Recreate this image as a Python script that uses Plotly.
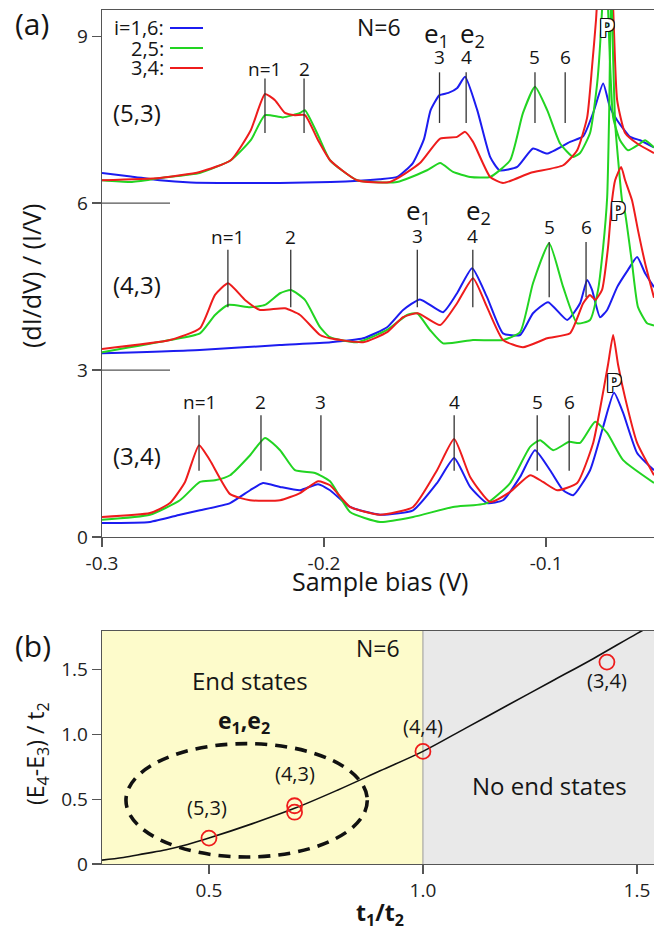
import plotly.graph_objects as go

# ---------------- Panel (a) data : sample bias (V) vs normalized dI/dV ----------------
# (5,3) chain, offset ~6.4
X53_BLUE = [-0.300, -0.287, -0.274, -0.26, -0.24, -0.22, -0.197, -0.175, -0.167, -0.160, -0.155, -0.152,
            -0.148, -0.144, -0.140, -0.1365, -0.131, -0.1252, -0.121, -0.113, -0.1059, -0.0995, -0.0892,
            -0.0833, -0.0788, -0.0743, -0.0712, -0.068, -0.0622, -0.0577, -0.0514]
Y53_BLUE = [6.54, 6.48, 6.41, 6.37, 6.36, 6.36, 6.38, 6.43, 6.47, 6.72, 7.15, 7.67,
            7.94, 7.98, 8.07, 8.27, 7.67, 6.83, 6.59, 6.65, 6.98, 6.89, 7.10,
            7.20, 7.62, 8.15, 7.72, 7.49, 7.19, 7.13, 7.0]
X53_GREEN = [-0.300, -0.287, -0.274, -0.256, -0.242, -0.233, -0.2266, -0.2185, -0.2108, -0.2086,
             -0.2027, -0.1973, -0.1851, -0.1671, -0.1536, -0.1477, -0.1419, -0.1342, -0.1252, -0.1162,
             -0.1104, -0.105, -0.0995, -0.0937, -0.0878, -0.0847, -0.0802, -0.077, -0.0748, -0.0734,
             -0.0721, -0.0698, -0.0667, -0.0631, -0.0577, -0.0554, -0.0514]
Y53_GREEN = [6.41, 6.38, 6.45, 6.54, 6.77, 7.13, 7.58, 7.54, 7.62, 7.67,
             7.22, 6.77, 6.41, 6.38, 6.59, 6.72, 6.56, 6.47, 6.47, 6.77,
             7.62, 8.09, 7.67, 7.07, 6.83, 6.9, 7.26, 8.15, 9.47, 11.0,
             9.5, 7.54, 7.13, 6.95, 7.07, 7.13, 7.0]
X53_RED = [-0.300, -0.274, -0.256, -0.242, -0.233, -0.2266, -0.2221, -0.2176, -0.2131, -0.2086,
           -0.2027, -0.1973, -0.1851, -0.1703, -0.1568, -0.1477, -0.1401, -0.1365, -0.1329, -0.1252,
           -0.1194, -0.1072, -0.0923, -0.086, -0.0815, -0.0793, -0.0775, -0.0734, -0.0698, -0.068,
           -0.0644, -0.059, -0.0514]
Y53_RED = [6.41, 6.45, 6.56, 6.77, 7.31, 7.96, 7.85, 7.62, 7.58, 7.58,
           7.13, 6.77, 6.41, 6.38, 6.72, 7.16, 7.19, 7.28, 7.10, 6.47,
           6.36, 6.54, 6.68, 6.95, 7.54, 8.45, 9.3, 12.0, 9.5, 7.85,
           7.26, 7.07, 6.9]

# (4,3) chain, offset ~3.3
X43_BLUE = [-0.300, -0.256, -0.220, -0.197, -0.1824, -0.1716, -0.1644, -0.1568, -0.1464, -0.1401,
            -0.1333, -0.1266, -0.1194, -0.1117, -0.1059, -0.0991, -0.0905, -0.0847, -0.0815, -0.0793,
            -0.0757, -0.0725, -0.068, -0.0631, -0.059, -0.0554, -0.0514]
Y43_BLUE = [3.30, 3.36, 3.45, 3.50, 3.57, 3.77, 4.08, 4.27, 4.04, 4.38,
            4.83, 4.31, 3.66, 3.63, 4.02, 4.22, 3.90, 4.2, 4.62, 4.44,
            3.95, 4.08, 4.49, 4.80, 5.03, 4.74, 4.49]
X43_GREEN = [-0.300, -0.2694, -0.2559, -0.2491, -0.2432, -0.2333, -0.2266, -0.2198, -0.2149, -0.2086,
             -0.2018, -0.1973, -0.1851, -0.1716, -0.1626, -0.1581, -0.1523, -0.1464, -0.1329, -0.1194,
             -0.1117, -0.1059, -0.0986, -0.0923, -0.086, -0.0802, -0.0766, -0.0743, -0.0725, -0.0716,
             -0.0707, -0.0698, -0.0689, -0.0676, -0.0658, -0.0644, -0.0613, -0.0586, -0.0545, -0.0514]
Y43_GREEN = [3.32, 3.54, 3.66, 3.99, 4.17, 4.13, 4.17, 4.38, 4.44, 4.26,
             3.77, 3.59, 3.50, 3.72, 3.99, 4.02, 3.72, 3.48, 3.54, 3.54,
             3.68, 4.56, 5.28, 4.49, 3.84, 3.90, 4.44, 5.21, 6.1, 7.6,
             10.0, 8.6, 7.44, 6.8, 6.05, 5.82, 4.92, 4.13, 3.84, 3.80]
X43_RED = [-0.300, -0.2694, -0.2559, -0.2491, -0.2432, -0.2356, -0.2288, -0.2176, -0.2108, -0.2018,
           -0.1973, -0.1824, -0.1716, -0.1644, -0.1577, -0.1477, -0.1401, -0.1329, -0.1266, -0.1194,
           -0.1104, -0.0995, -0.0892, -0.0833, -0.0802, -0.0779, -0.0748, -0.0721, -0.0703, -0.0689,
           -0.0662, -0.0644, -0.0613, -0.0586, -0.0554, -0.0514]
Y43_RED = [3.38, 3.54, 3.75, 4.35, 4.56, 4.26, 4.08, 4.11, 3.99, 3.63,
           3.57, 3.50, 3.68, 3.95, 4.02, 3.81, 4.20, 4.65, 4.13, 3.54,
           3.41, 3.57, 3.66, 4.20, 4.35, 4.26, 4.44, 5.21, 6.05, 6.41,
           6.65, 6.41, 6.05, 5.51, 4.92, 4.3]

# (3,4) chain, offset ~0.3
X34_BLUE = [-0.300, -0.2784, -0.2649, -0.2559, -0.2423, -0.2333, -0.2275, -0.2198, -0.2108, -0.2027,
            -0.1973, -0.1883, -0.1748, -0.1599, -0.1491, -0.1414, -0.1342, -0.1266, -0.1194, -0.1117,
            -0.105, -0.0982, -0.0923, -0.0878, -0.0802, -0.0743, -0.0694, -0.0653, -0.059, -0.0514]
Y34_BLUE = [0.25, 0.27, 0.40, 0.48, 0.61, 0.84, 0.97, 0.90, 0.84, 0.95,
            0.84, 0.54, 0.40, 0.48, 0.97, 1.42, 0.90, 0.61, 0.66, 1.08,
            1.56, 1.20, 0.84, 0.75, 1.20, 1.98, 2.59, 2.23, 1.51, 1.20]
X34_GREEN = [-0.300, -0.2784, -0.2649, -0.2559, -0.2491, -0.2423, -0.2333, -0.2266, -0.2198, -0.2131,
             -0.2041, -0.1973, -0.1883, -0.1748, -0.1599, -0.1419, -0.1266, -0.1162, -0.1072, -0.1027,
             -0.0968, -0.0896, -0.0847, -0.0779, -0.0725, -0.0653, -0.0514]
Y34_GREEN = [0.31, 0.40, 0.66, 0.99, 1.02, 1.11, 1.47, 1.78, 1.56, 1.20,
             1.15, 1.0, 0.45, 0.27, 0.36, 0.54, 0.61, 0.97, 1.62, 1.74,
             1.56, 1.71, 1.69, 2.07, 1.87, 1.38, 0.97]
X34_RED = [-0.300, -0.2784, -0.2694, -0.2626, -0.2563, -0.2514, -0.2423, -0.2333, -0.2198, -0.2108,
           -0.2027, -0.1973, -0.1883, -0.1748, -0.1599, -0.1491, -0.1414, -0.1342, -0.1252, -0.1162,
           -0.1072, -0.1014, -0.095, -0.086, -0.0788, -0.0757, -0.0721, -0.0698, -0.0676, -0.0644,
           -0.059, -0.0514]
Y34_RED = [0.36, 0.43, 0.61, 0.99, 1.65, 1.38, 0.77, 0.66, 0.66, 0.79,
           1.0, 0.93, 0.54, 0.40, 0.54, 1.2, 1.76, 1.08, 0.63, 0.81,
           1.11, 0.99, 0.84, 0.97, 1.69, 2.3, 3.1, 3.63, 3.1, 2.5,
           1.69, 1.11]

# peak markers (position, label, bottom, top of the tick, label height)
PK53_X = [-0.2266, -0.209, -0.148, -0.136, -0.105, -0.0914]
PK53_LBL = ["n=1", "2", "3", "4", "5", "6"]
PK53_LO = [7.26, 7.26, 7.44, 7.44, 7.44, 7.44]
PK53_HI = [8.24, 8.24, 8.35, 8.35, 8.35, 8.35]
PK53_TXT = [8.41, 8.41, 8.62, 8.62, 8.62, 8.62]

PK43_X = [-0.2433, -0.215, -0.158, -0.133, -0.0986, -0.082]
PK43_LBL = ["n=1", "2", "3", "4", "5", "6"]
PK43_LO = [4.13, 4.13, 4.13, 4.13, 4.31, 4.31]
PK43_HI = [5.16, 5.16, 5.16, 5.16, 5.30, 5.30]
PK43_TXT = [5.39, 5.39, 5.41, 5.41, 5.57, 5.57]

PK34_X = [-0.2563, -0.2284, -0.2014, -0.1414, -0.104, -0.0896]
PK34_LBL = ["n=1", "2", "3", "4", "5", "6"]
PK34_LO = [1.19, 1.19, 1.19, 1.19, 1.19, 1.19]
PK34_HI = [2.19, 2.19, 2.19, 2.19, 2.19, 2.19]
PK34_TXT = [2.43, 2.43, 2.43, 2.43, 2.43, 2.43]

# end-state labels
E_LBL = ["e<sub>1</sub>", "e<sub>2</sub>", "e<sub>1</sub>", "e<sub>2</sub>"]
E_X = [-0.1494, -0.1331, -0.1576, -0.1305]
E_Y = [9.04, 9.04, 5.86, 5.86]

# P labels
P_X = [-0.0725, -0.0676, -0.0694]
P_Y = [9.16, 5.87, 2.78]

# chain labels
CHAIN_LBL = ["(5,3)", "(4,3)", "(3,4)"]
CHAIN_Y = [7.62, 4.53, 1.47]

YTICKS_A = [0, 3, 6, 9]
XTICKS_A = [-0.3, -0.2, -0.1]
XTICK_LBL_A = ["-0.3", "-0.2", "-0.1"]

# ---------------- Panel (b) data ----------------
CURVE_T = [0.25, 0.3, 0.35, 0.4, 0.45, 0.5, 0.6, 0.7, 0.8, 0.9, 1.0, 1.1, 1.2, 1.3, 1.4, 1.5, 1.55]
CURVE_E = [0.03, 0.05, 0.08, 0.11, 0.15, 0.2, 0.31, 0.43, 0.57, 0.72, 0.87, 1.05, 1.23, 1.41, 1.59, 1.78, 1.87]
EXP_T = [0.5, 0.7, 0.7, 1.0, 1.43]
EXP_E = [0.2, 0.40, 0.45, 0.87, 1.56]
EXP_LBL = ["(5,3)", "(4,3)", "(4,4)", "(3,4)"]
EXP_LBL_T = [0.495, 0.70, 1.0, 1.43]
EXP_LBL_E = [0.44, 0.70, 1.06, 1.42]
YTICKS_B = [0, 0.5, 1.0, 1.5]
YTICK_LBL_B = ["0", "0.5", "1.0", "1.5"]
XTICKS_B = [0.5, 1.0, 1.5]
XTICK_LBL_B = ["0.5", "1.0", "1.5"]

BLUE = "#1c1cf0"
GREEN = "#22d422"
RED = "#ee1c1c"
FONT = "Open Sans"
TXT = "#151515"
W, H = 654, 933

fig = go.Figure()

def curve(x, y, color):
    fig.add_trace(go.Scatter(x=x, y=y, mode="lines", line=dict(color=color, width=2, shape="spline", smoothing=0.5),
                             xaxis="x", yaxis="y", showlegend=False, hoverinfo="skip"))

for xb, yb, xg, yg, xr, yr in [
    (X53_BLUE, Y53_BLUE, X53_GREEN, Y53_GREEN, X53_RED, Y53_RED),
    (X43_BLUE, Y43_BLUE, X43_GREEN, Y43_GREEN, X43_RED, Y43_RED),
    (X34_BLUE, Y34_BLUE, X34_GREEN, Y34_GREEN, X34_RED, Y34_RED),
]:
    curve(xb, yb, BLUE)
    curve(xg, yg, GREEN)
    curve(xr, yr, RED)

annotations = []

def paper_text(px, py, text, size, angle=0, xanchor="center"):
    annotations.append(dict(x=px / W, y=1 - py / H, xref="paper", yref="paper", text=text, showarrow=False,
                            xanchor=xanchor, yanchor="middle", textangle=angle,
                            font=dict(family=FONT, size=size, color=TXT)))

# peak tick lines + labels
for px_, lbl, lo, hi, ty in [(PK53_X, PK53_LBL, PK53_LO, PK53_HI, PK53_TXT),
                              (PK43_X, PK43_LBL, PK43_LO, PK43_HI, PK43_TXT),
                              (PK34_X, PK34_LBL, PK34_LO, PK34_HI, PK34_TXT)]:
    xs, ys = [], []
    for xv, l, h in zip(px_, lo, hi):
        xs += [xv, xv, None]
        ys += [l, h, None]
    fig.add_trace(go.Scatter(x=xs, y=ys, mode="lines", line=dict(color="#333333", width=1.3),
                             xaxis="x", yaxis="y", showlegend=False, hoverinfo="skip"))
    for xv, t, yy in zip(px_, lbl, ty):
        annotations.append(dict(x=xv, y=yy, xref="x", yref="y", text=t, showarrow=False,
                                font=dict(family=FONT, size=19, color=TXT)))

for t, xv, yy in zip(E_LBL, E_X, E_Y):
    annotations.append(dict(x=xv, y=yy, xref="x", yref="y", text=t, showarrow=False,
                            font=dict(family=FONT, size=26, color=TXT)))
for xv, yy in zip(P_X, P_Y):
    annotations.append(dict(x=xv, y=yy, xref="x", yref="y", text="<b>P</b>", showarrow=False,
                            font=dict(family=FONT, size=25, color="white",
                                      shadow="1px 0 0 #111, -1px 0 0 #111, 0 1px 0 #111, 0 -1px 0 #111, 1px 1px 0 #111, -1px -1px 0 #111, 1px -1px 0 #111, -1px 1px 0 #111")))
for t, yy in zip(CHAIN_LBL, CHAIN_Y):
    annotations.append(dict(x=-0.2842, y=yy, xref="x", yref="y", text=t, showarrow=False,
                            font=dict(family=FONT, size=24, color=TXT)))
annotations.append(dict(x=-0.1752, y=9.16, xref="x", yref="y", text="N=6", showarrow=False,
                        font=dict(family=FONT, size=23, color=TXT)))

# legend (text before line sample)
LEG_TXT = ["i=1,6:", "2,5:", "3,4:"]
LEG_COL = [BLUE, GREEN, RED]
LEG_PY = [28, 48, 68]
shapes = []
for t, c, py in zip(LEG_TXT, LEG_COL, LEG_PY):
    paper_text(166, py, t, 20, xanchor="right")
    shapes.append(dict(type="line", xref="paper", yref="paper", x0=170 / W, x1=203 / W,
                       y0=1 - py / H, y1=1 - py / H, line=dict(color=c, width=2.2)))

# long tick lines at 3 and 6 (panel separators)
for yv in [3, 6]:
    shapes.append(dict(type="line", xref="x domain", yref="y", x0=0, x1=(170 - 102) / 552, y0=yv, y1=yv,
                       line=dict(color="#555", width=1.3)))

# axis titles panel a
paper_text(380, 581, "Sample bias (V)", 25)
paper_text(31, 276, "(dI/dV) / (I/V)", 25, angle=-90)
paper_text(32, 23, "(a)", 30)

# ---------------- Panel (b) ----------------
shapes.append(dict(type="rect", xref="x2", yref="y2", x0=0.25, x1=1.0, y0=0, y1=1.8,
                   fillcolor="#fdfbcb", line=dict(width=0), layer="below"))
shapes.append(dict(type="rect", xref="x2", yref="y2", x0=1.0, x1=1.56, y0=0, y1=1.8,
                   fillcolor="#e9e9e9", line=dict(width=0), layer="below"))
shapes.append(dict(type="line", xref="x2", yref="y2", x0=1.0, x1=1.0, y0=0, y1=1.8,
                   line=dict(color="#999", width=1), layer="below"))
shapes.append(dict(type="circle", xref="x2", yref="y2", x0=0.306, x1=0.870, y0=0.054, y1=0.93,
                   line=dict(color="#111", width=3.6, dash="12px,8px")))

fig.add_trace(go.Scatter(x=CURVE_T, y=CURVE_E, mode="lines", line=dict(color="#111", width=1.6, shape="spline"),
                         xaxis="x2", yaxis="y2", showlegend=False, hoverinfo="skip"))
fig.add_trace(go.Scatter(x=EXP_T, y=EXP_E, mode="markers",
                         marker=dict(symbol="circle-open", size=15, color=RED, line=dict(width=1.8, color=RED)),
                         xaxis="x2", yaxis="y2", showlegend=False, hoverinfo="skip"))
for t, xv, yv in zip(EXP_LBL, EXP_LBL_T, EXP_LBL_E):
    annotations.append(dict(x=xv, y=yv, xref="x2", yref="y2", text=t, showarrow=False,
                            font=dict(family=FONT, size=20, color=TXT)))
annotations.append(dict(x=0.595, y=1.42, xref="x2", yref="y2", text="End states", showarrow=False,
                        font=dict(family=FONT, size=24, color=TXT)))
annotations.append(dict(x=0.583, y=1.10, xref="x2", yref="y2", text="<b>e<sub>1</sub>,e<sub>2</sub></b>",
                        showarrow=False, font=dict(family=FONT, size=23, color=TXT)))
annotations.append(dict(x=0.896, y=1.67, xref="x2", yref="y2", text="N=6", showarrow=False,
                        font=dict(family=FONT, size=23, color=TXT)))
annotations.append(dict(x=1.295, y=0.61, xref="x2", yref="y2", text="No end states", showarrow=False,
                        font=dict(family=FONT, size=24, color=TXT)))
paper_text(380, 913, "<b>t<sub>1</sub>/t<sub>2</sub></b>", 23)
paper_text(36, 754, "(E<sub>4</sub>-E<sub>3</sub>) / t<sub>2</sub>", 23, angle=-90)
paper_text(33, 645, "(b)", 30)

axis_common = dict(showgrid=False, zeroline=False, showline=True, linecolor="#555", linewidth=1.3,
                   ticks="outside", ticklen=9, tickcolor="#555", tickwidth=1.3, automargin=False,
                   tickfont=dict(family=FONT, size=19, color="#222"))

fig.update_layout(
    width=W, height=H, margin=dict(l=0, r=0, t=0, b=0, autoexpand=False),
    paper_bgcolor="white", plot_bgcolor="rgba(0,0,0,0)",
    xaxis=dict(domain=[102 / W, 1.0], range=[-0.3, -0.0514], tickvals=XTICKS_A, ticktext=XTICK_LBL_A,
               anchor="y", mirror=True, **axis_common),
    yaxis=dict(domain=[1 - 537 / H, 1 - 10 / H], range=[0, 9.47], tickvals=YTICKS_A,
               anchor="x", **axis_common),
    xaxis2=dict(domain=[102 / W, 1.0], range=[0.25, 1.54], tickvals=XTICKS_B, ticktext=XTICK_LBL_B,
                anchor="y2", mirror=True, **axis_common),
    yaxis2=dict(domain=[1 - 864 / H, 1 - 631 / H], range=[0, 1.8], tickvals=YTICKS_B, ticktext=YTICK_LBL_B,
                anchor="x2", **axis_common),
    annotations=annotations, shapes=shapes,
)

fig.write_html("out.html", config={"displayModeBar": False, "staticPlot": True},
               post_script="document.body.style.margin='0';document.body.style.padding='0';"
                           "document.body.style.overflow='hidden';")
